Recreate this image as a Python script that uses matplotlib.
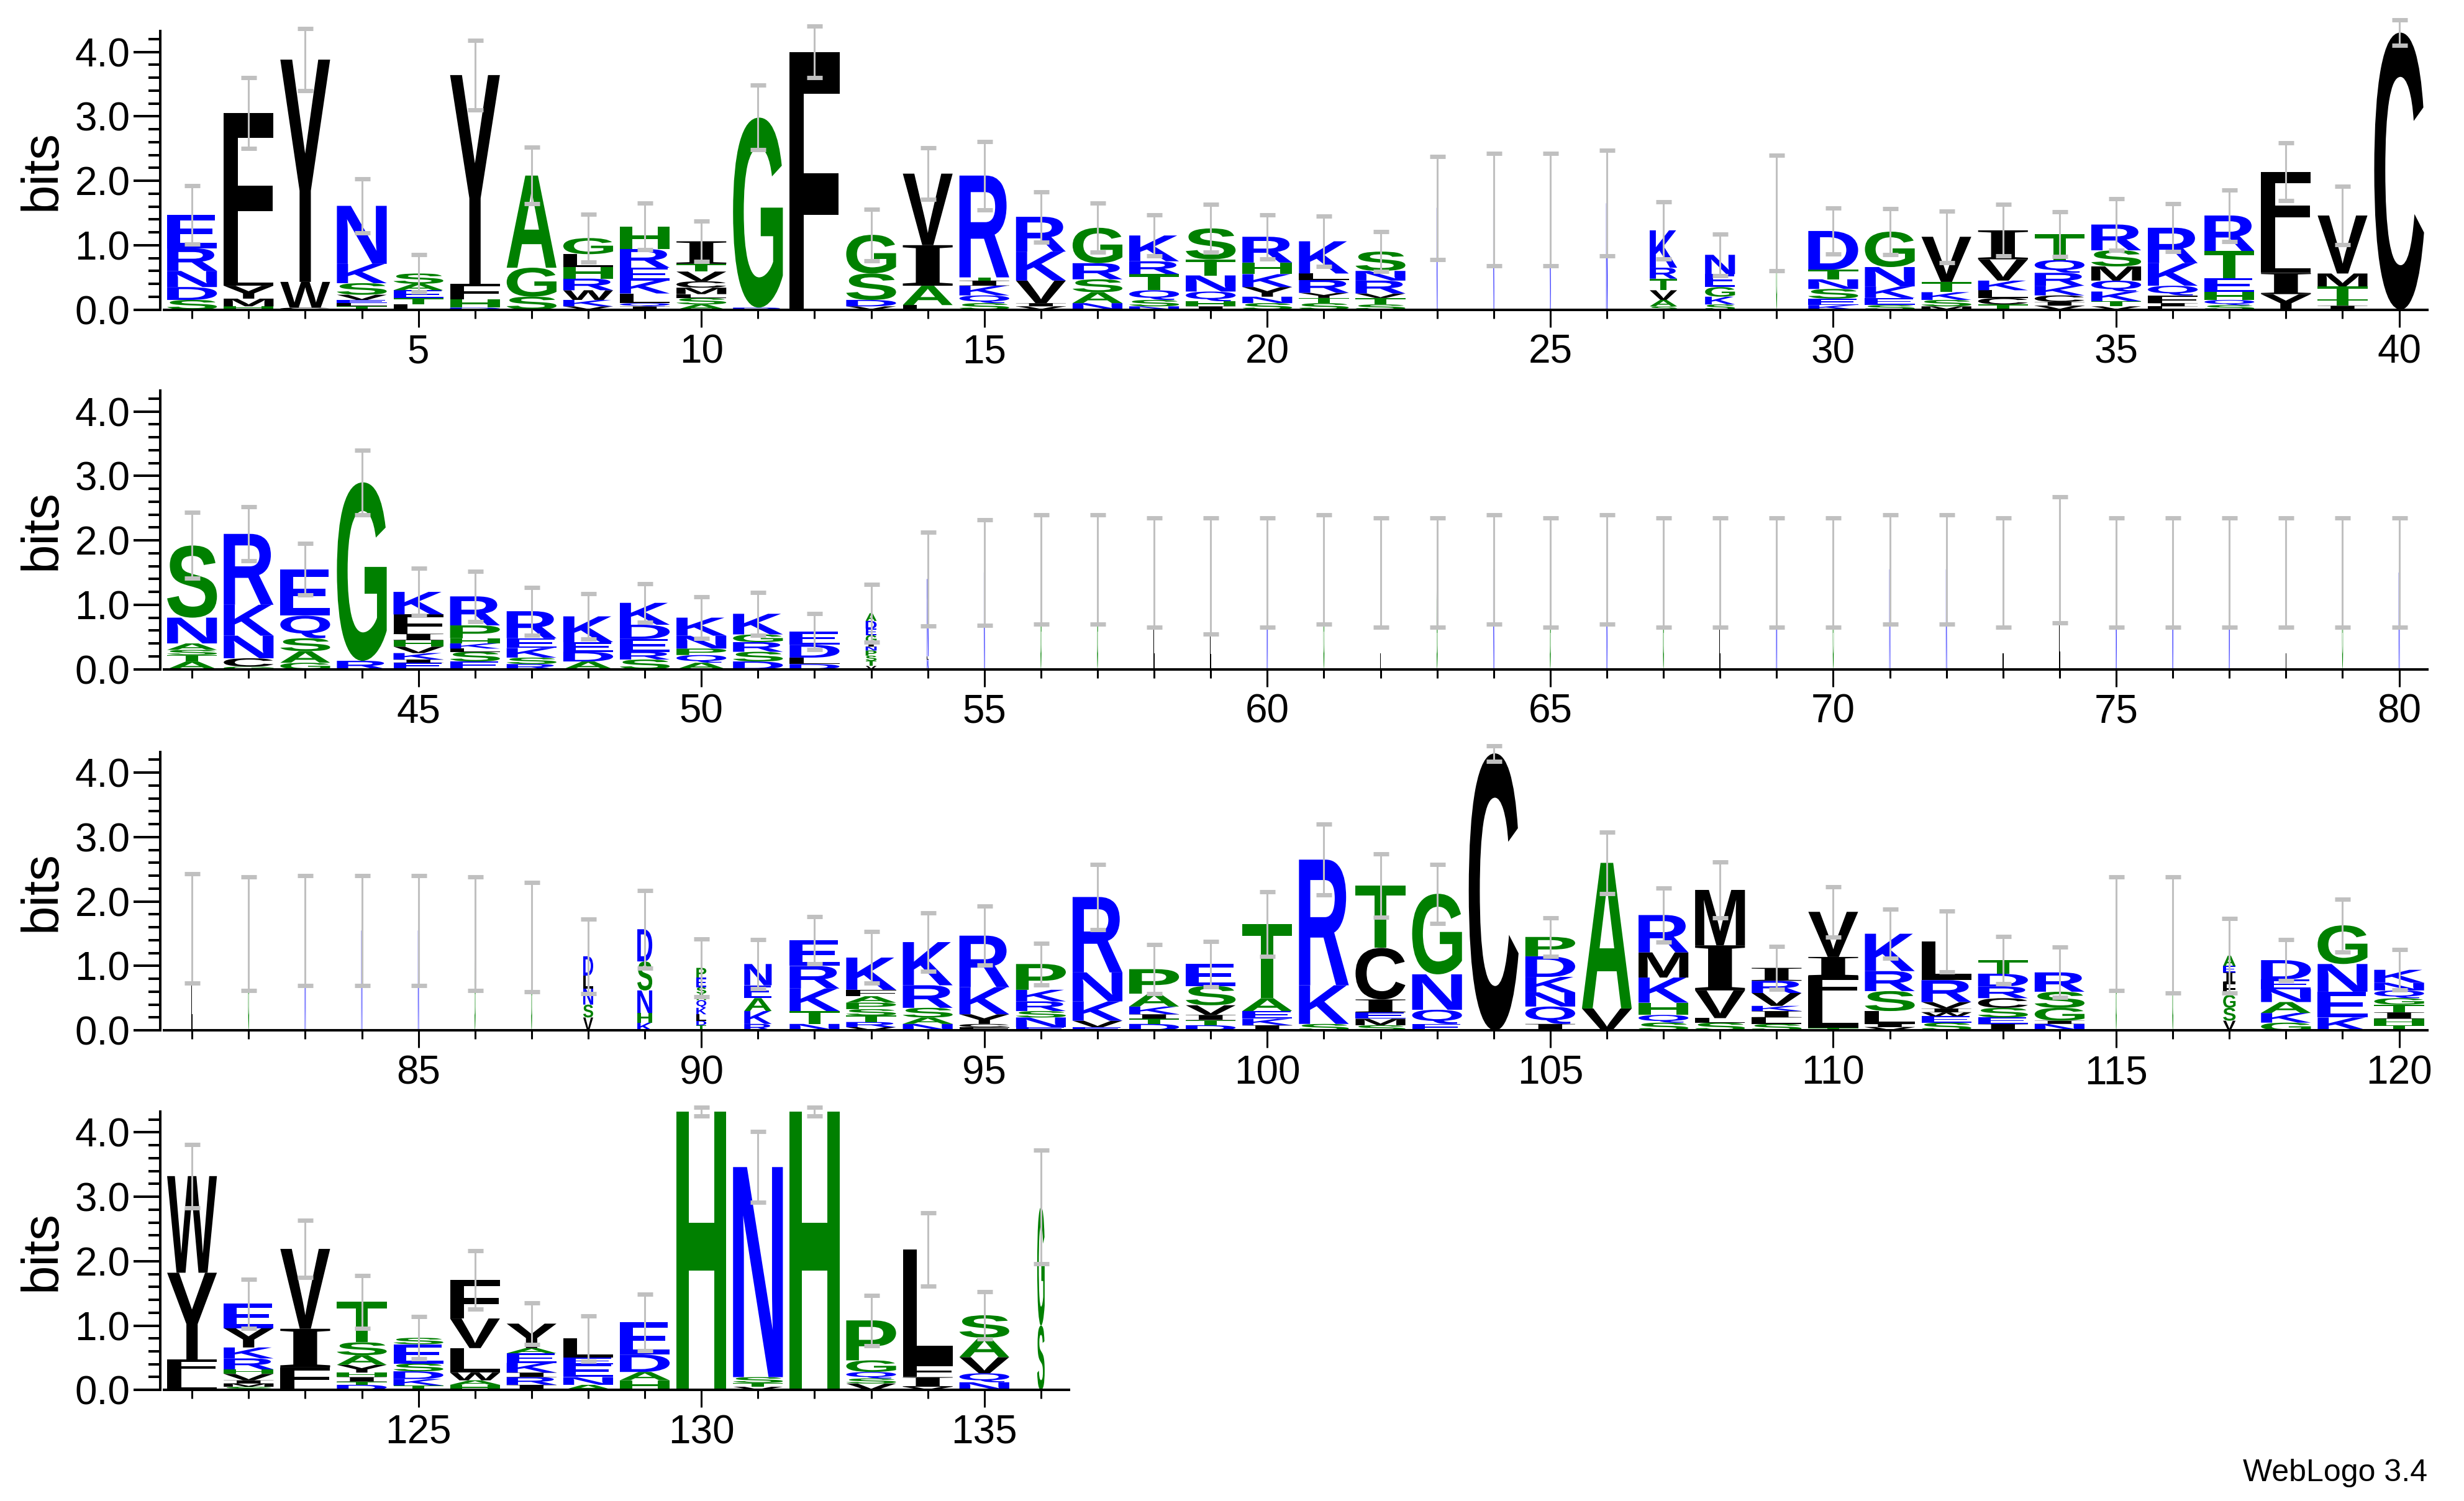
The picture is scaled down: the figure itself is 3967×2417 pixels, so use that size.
import matplotlib
matplotlib.use('Agg')
import matplotlib.pyplot as plt
from matplotlib.textpath import TextPath
from matplotlib.font_manager import FontProperties
from matplotlib.patches import PathPatch
from matplotlib.transforms import Affine2D
from matplotlib.ticker import MultipleLocator

# ---- data: letter stacks (bottom -> top, "letter:bits") ----
stacks = {
1: "S:0.15 D:0.2 N:0.25 R:0.35 E:0.52",
2: "H:0.05 M:0.12 Y:0.2 L:0.28 F:2.4",
3: "C:0.03 W:0.4 Y:3.45",
4: "T:0.05 L:0.05 E:0.05 V:0.08 S:0.18 K:0.3 N:0.9",
5: "L:0.08 T:0.1 E:0.12 A:0.1 S:0.16",
6: "D:0.03 H:0.13 F:0.24 Y:3.24",
7: "S:0.2 G:0.45 A:1.43",
8: "V:0.05 K:0.1 W:0.15 R:0.18 H:0.18 L:0.2 G:0.25",
9: "I:0.05 Q:0.05 L:0.15 K:0.2 E:0.2 R:0.29 H:0.35",
10: "A:0.08 S:0.1 L:0.06 M:0.1 C:0.1 V:0.15 T:0.12 I:0.35",
11: "R:0.03 G:2.95",
12: "F:4.0",
13: "V:0.05 D:0.1 S:0.41 G:0.6",
14: "L:0.07 A:0.3 I:0.63 V:1.11",
15: "S:0.1 Q:0.12 K:0.15 I:0.08 T:0.05 R:1.58",
16: "V:0.05 I:0.05 V:0.35 K:0.45 R:0.54",
17: "N:0.1 A:0.17 S:0.2 R:0.25 G:0.55",
18: "N:0.05 S:0.1 Q:0.15 T:0.25 R:0.2 K:0.4",
19: "I:0.05 H:0.08 Q:0.15 N:0.25 T:0.25 S:0.48",
20: "S:0.1 N:0.1 Y:0.15 K:0.2 H:0.18 R:0.4",
21: "S:0.1 T:0.08 Y:0.08 R:0.2 L:0.1 K:0.5",
22: "S:0.08 T:0.1 V:0.07 R:0.2 N:0.15 S:0.3",
23: "N:1.58",
24: "N:1.55",
25: "N:1.55",
26: "N:1.65",
27: "S:0.05 A:0.1 V:0.15 T:0.18 R:0.17 K:0.58",
28: "S:0.08 K:0.12 G:0.15 E:0.2 N:0.3",
29: "G:1.5",
30: "K:0.07 E:0.1 S:0.15 N:0.15 T:0.15 D:0.6",
31: "S:0.07 E:0.11 K:0.18 N:0.3 G:0.55",
32: "M:0.05 S:0.1 K:0.12 T:0.16 V:0.7",
33: "T:0.08 C:0.1 L:0.12 K:0.15 V:0.33 I:0.45",
34: "V:0.06 I:0.06 C:0.1 K:0.15 R:0.2 Q:0.2 T:0.4",
35: "V:0.05 T:0.08 K:0.15 Q:0.17 M:0.22 S:0.25 R:0.4",
36: "L:0.05 I:0.05 F:0.12 Q:0.15 K:0.35 R:0.55",
37: "S:0.07 Q:0.08 H:0.12 E:0.22 T:0.42 R:0.55",
38: "Y:0.24 I:0.33 L:0.45 F:1.12",
39: "I:0.06 T:0.1 T:0.2 M:0.2 V:0.9",
40: "C:4.3",
41: "A:0.12 T:0.1 S:0.08 A:0.1 N:0.4 S:1.12",
42: "G:0.04 C:0.13 N:0.35 K:0.48 R:1.1",
43: "G:0.1 A:0.18 S:0.2 Q:0.35 E:0.72",
44: "R:0.13 G:2.77",
45: "E:0.1 I:0.05 K:0.1 V:0.1 H:0.1 I:0.1 F:0.3 K:0.35",
46: "E:0.12 S:0.15 L:0.05 K:0.08 H:0.08 P:0.2 R:0.45",
47: "R:0.08 S:0.1 K:0.15 E:0.15 R:0.42",
48: "A:0.12 D:0.15 E:0.15 K:0.4",
49: "S:0.15 R:0.12 E:0.2 D:0.22 K:0.34",
50: "A:0.1 Q:0.12 P:0.1 N:0.2 K:0.28",
51: "D:0.12 S:0.15 R:0.15 G:0.12 K:0.32",
52: "D:0.08 L:0.1 D:0.2 E:0.2",
53: "V:0.05 T:0.08 S:0.08 P:0.08 N:0.06 I:0.06 G:0.12 E:0.1 D:0.12 A:0.12",
54: "N:0.15 L:0.05 N:1.2",
55: "N:1.5", 56: "G:1.55", 57: "G:1.55", 58: "L:1.5", 59: "L:1.45", 60: "N:1.5",
61: "G:1.55", 62: "L:1.5", 63: "G:1.5", 64: "N:1.55", 65: "G:1.5", 66: "N:1.55",
67: "G:1.5", 68: "L:1.5", 69: "N:1.5", 70: "G:1.5", 71: "N:1.55", 72: "N:1.55",
73: "L:1.5", 74: "L:1.7", 75: "N:1.5", 76: "N:1.5", 77: "N:1.5", 78: "L:1.5",
79: "G:1.5", 80: "N:1.5", 81: "L:1.58", 82: "G:1.5", 83: "N:1.55", 84: "N:1.55",
85: "N:1.55", 86: "G:1.5", 87: "G:1.45",
88: "V:0.2 S:0.2 N:0.25 L:0.2 D:0.3",
89: "K:0.12 H:0.15 N:0.35 S:0.45 D:0.5",
90: "T:0.08 D:0.07 L:0.1 K:0.1 Q:0.12 A:0.1 S:0.1 E:0.15 P:0.15",
91: "R:0.1 K:0.2 A:0.2 E:0.2 N:0.33",
92: "N:0.1 T:0.2 K:0.35 R:0.35 E:0.4",
93: "V:0.05 R:0.08 T:0.1 S:0.1 P:0.1 A:0.1 F:0.1 K:0.5",
94: "N:0.1 A:0.1 S:0.15 R:0.35 K:0.67",
95: "F:0.05 C:0.05 Y:0.15 K:0.42 R:0.8",
96: "E:0.05 N:0.15 S:0.1 R:0.15 K:0.18 P:0.4",
97: "E:0.05 V:0.1 K:0.3 N:0.45 R:1.17",
98: "D:0.1 T:0.08 I:0.07 K:0.12 A:0.2 P:0.38",
99: "D:0.08 T:0.08 I:0.08 V:0.15 S:0.3 E:0.34",
100: "I:0.08 K:0.1 E:0.12 A:0.2 T:1.15",
101: "S:0.1 K:0.6 R:1.95",
102: "S:0.08 M:0.1 E:0.1 I:0.2 C:0.8 T:0.97",
103: "E:0.1 Q:0.22 N:0.55 G:1.25",
104: "C:4.3",
105: "I:0.1 Q:0.27 N:0.22 K:0.24 D:0.32 P:0.3",
106: "V:0.34 A:2.26",
107: "S:0.12 Q:0.12 H:0.19 K:0.39 M:0.39 R:0.58",
108: "S:0.12 L:0.07 V:0.43 I:0.7 M:0.86",
109: "S:0.1 L:0.1 I:0.1 K:0.08 V:0.2 R:0.19 I:0.2",
110: "T:0.04 L:0.45 F:0.35 I:0.3 V:0.7",
111: "V:0.05 I:0.05 L:0.2 S:0.31 R:0.31 K:0.58",
112: "S:0.12 E:0.1 W:0.06 I:0.06 V:0.1 R:0.34 L:0.6",
113: "I:0.1 E:0.1 S:0.15 C:0.15 R:0.18 D:0.2 T:0.21",
114: "N:0.1 I:0.05 G:0.2 S:0.25 R:0.3",
115: "G:1.5", 116: "G:1.48",
117: "V:0.15 S:0.2 G:0.2 F:0.2 I:0.15 E:0.1 A:0.16",
118: "G:0.12 K:0.15 A:0.17 N:0.2 E:0.15 D:0.3",
119: "K:0.2 E:0.4 N:0.43 G:0.6",
120: "T:0.08 H:0.1 I:0.1 T:0.12 G:0.1 Q:0.12 N:0.12 K:0.2",
121: "L:0.25 F:0.22 Y:1.35 W:1.5",
122: "S:0.05 M:0.05 I:0.05 V:0.1 H:0.07 R:0.17 K:0.17 Y:0.3 E:0.38",
123: "L:0.05 F:0.3 I:0.6 V:1.24",
124: "D:0.08 T:0.05 I:0.07 H:0.07 Y:0.12 A:0.15 S:0.2 T:0.63",
125: "T:0.07 K:0.1 D:0.12 S:0.12 E:0.3 S:0.1",
126: "H:0.08 A:0.07 W:0.12 L:0.38 V:0.46 F:0.6",
127: "I:0.08 R:0.12 I:0.07 K:0.15 E:0.15 A:0.08 Y:0.38",
128: "A:0.08 N:0.12 E:0.2 E:0.1 L:0.3",
129: "H:0.15 A:0.13 D:0.27 E:0.5",
130: "H:4.32",
131: "V:0.05 T:0.06 S:0.09 N:3.26",
132: "H:4.32",
133: "V:0.1 S:0.08 Q:0.1 G:0.18 P:0.62",
134: "V:0.05 I:0.15 F:0.2 L:1.78",
135: "N:0.12 Q:0.14 V:0.25 A:0.3 S:0.35",
136: "S:1.0 G:1.84",
}

# error bar half-lengths (bits)
err_half = {
1: .45, 2: .55, 3: .48, 4: .42, 5: .29, 6: .54, 7: .44, 8: .37, 9: .36, 10: .31,
11: .5, 12: .4, 13: .4, 14: .4, 15: .53, 16: .39, 17: .38, 18: .32, 19: .37, 20: .34,
21: .39, 22: .31, 23: .8, 24: .87, 25: .87, 26: .82, 27: .44, 28: .32, 29: .9, 30: .36,
31: .36, 32: .4, 33: .4, 34: .35, 35: .4, 36: .37, 37: .4, 38: .45, 39: .45, 40: .2,
41: .51, 42: .42, 43: .4, 44: .5, 45: .37, 46: .39, 47: .37, 48: .35, 49: .3, 50: .32,
51: .33, 52: .28, 53: .45, 54: .73, 55: .82, 56: .85, 57: .85, 58: .85, 59: .9, 60: .85,
61: .85, 62: .85, 63: .85, 64: .85, 65: .85, 66: .85, 67: .85, 68: .85, 69: .85, 70: .85,
71: .85, 72: .85, 73: .85, 74: .98, 75: .85, 76: .85, 77: .85, 78: .85, 79: .85, 80: .85,
81: .85, 82: .88, 83: .85, 84: .85, 85: .85, 86: .88, 87: .85, 88: .58, 89: .6, 90: .45,
91: .38, 92: .37, 93: .4, 94: .45, 95: .46, 96: .32, 97: .51, 98: .38, 99: .35, 100: .5,
101: .55, 102: .49, 103: .46, 104: .12, 105: .3, 106: .48, 107: .42, 108: .43, 109: .33, 110: .39,
111: .38, 112: .47, 113: .37, 114: .39, 115: .88, 116: .9, 117: .58, 118: .32, 119: .41, 120: .31,
121: .49, 122: .38, 123: .44, 124: .41, 125: .33, 126: .45, 127: .32, 128: .35, 129: .44, 130: .07,
131: .55, 132: .07, 133: .39, 134: .57, 135: .37, 136: .88,
}

# column width fraction (occupancy); default 1
col_width = {23: .02, 24: .02, 25: .02, 26: .03, 27: .55, 28: .6, 29: .02, 53: .22, 54: .03,
             88: .2, 89: .3, 90: .2, 91: .55, 117: .25, 136: .15}
for p in list(range(55, 88)) + [115, 116]:
    col_width[p] = .02

rows = [(1, 40), (41, 80), (81, 120), (121, 136)]
xtick_labels = {0: [5, 10, 15, 20, 25, 30, 35, 40], 1: [45, 50, 55, 60, 65, 70, 75, 80],
                2: [85, 90, 95, 100, 105, 110, 115, 120], 3: [125, 130, 135]}

colors = {}
for c in "FYWCVLIM":
    colors[c] = "#000000"
for c in "AGHTSP":
    colors[c] = "#008000"
for c in "NKREDQ":
    colors[c] = "#0000ff"

plt.rcParams['font.family'] = ['Liberation Sans', 'DejaVu Sans']
fp = FontProperties(family='Liberation Sans', weight='bold')
fp_serif = FontProperties(family='Liberation Serif', weight='bold')
glyph_cache = {}


def glyph(ch):
    if ch not in glyph_cache:
        tp = TextPath((0, 0), ch, size=1, prop=fp_serif if ch == 'I' else fp)
        ext = tp.get_extents()
        glyph_cache[ch] = (tp, ext)
    return glyph_cache[ch]


def draw_letter(ax, ch, xc, y0, w, h):
    tp, ext = glyph(ch)
    t = Affine2D().translate(-ext.x0, -ext.y0).scale(w / ext.width, h / ext.height).translate(xc - w / 2, y0)
    path = t.transform_path(tp)
    ax.add_patch(PathPatch(path, facecolor=colors[ch], edgecolor='none', lw=0, zorder=2))


W, H = 3967, 2417
fig = plt.figure(figsize=(W / 100, H / 100), dpi=100)
left = 103 / 1550
full_w = (1527 - 103) / 1550
bottoms = [1 - 198 / 960, 1 - 428 / 960, 1 - 659 / 960, 1 - 889 / 960]
ax_h = 178 / 960

for r, (a, b) in enumerate(rows):
    n = b - a + 1
    wfrac = full_w * n / 40
    ax = fig.add_axes([left, bottoms[r], wfrac, ax_h])
    for p in range(a, b + 1):
        y = 0.0
        cw = 0.88 * col_width.get(p, 1.0)
        for tok in stacks[p].split():
            ch, v = tok.split(':')
            v = float(v)
            draw_letter(ax, ch, p, y, cw, v)
            y += v
        ax.errorbar([p], [y], yerr=[err_half[p]], fmt='none', ecolor='#c0c0c0',
                    elinewidth=2.2, capsize=9, capthick=5, zorder=3, clip_on=False)
    ax.set_xlim(a - 0.5, b + 0.5)
    ax.set_ylim(0, 4.32)
    for s in ['top', 'right']:
        ax.spines[s].set_visible(False)
    ax.spines['left'].set_linewidth(2.9)
    ax.spines['bottom'].set_linewidth(2.9)
    ax.spines['left'].set_position(('outward', 4))
    ax.yaxis.set_minor_locator(MultipleLocator(0.2))
    ax.set_yticks([0, 1, 2, 3, 4])
    ax.set_yticklabels(["0.0", "1.0", "2.0", "3.0", "4.0"])
    ax.set_xticks(range(a, b + 1), minor=True)
    ax.set_xticks(xtick_labels[r])
    ax.set_xticklabels([str(v) for v in xtick_labels[r]])
    ax.tick_params(axis='y', which='major', length=31, width=2.9, labelsize=46, pad=4)
    ax.tick_params(axis='y', which='minor', length=14, width=2.9)
    ax.tick_params(axis='x', which='major', length=20, width=2.2, labelsize=46, pad=8)
    ax.tick_params(axis='x', which='minor', length=10, width=2.2)
    ax.set_ylabel("bits", fontsize=60, labelpad=10)

fig.text(1527 / 1550, 1 - 942 / 960, "WebLogo 3.4", ha='right', va='center', fontsize=36)
fig.savefig("out.png", dpi=100)
